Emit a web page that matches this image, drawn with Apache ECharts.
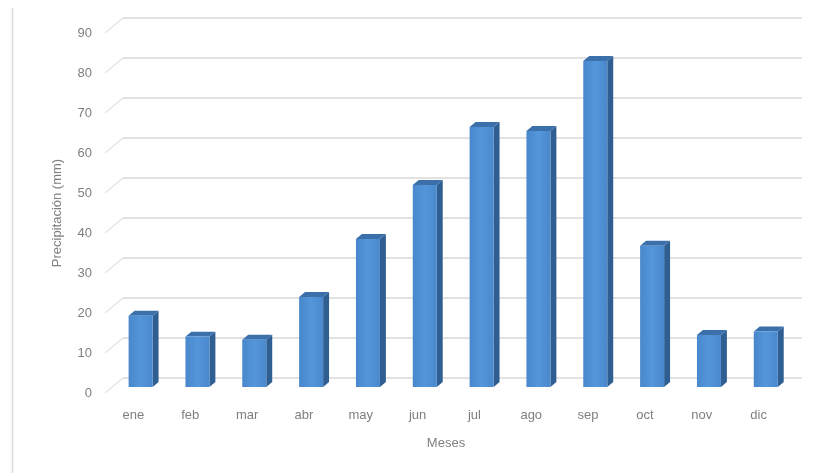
<!DOCTYPE html>
<html><head><meta charset="utf-8">
<script src="https://cdn.jsdelivr.net/npm/echarts@6/dist/echarts.min.js"></script>
<style>html,body{margin:0;padding:0;background:#fff}#c{width:822px;height:473px}</style>
</head><body><div id="c"></div>
<script>
const categories = ['ene','feb','mar','abr','may','jun','jul','ago','sep','oct','nov','dic'];
const precipitation = [17.8, 12.6, 11.8, 22.5, 37, 50.5, 65, 64, 81.5, 35.3, 13, 13.9];
const yTicks = [0,10,20,30,40,50,60,70,80,90];

const DX = 18, DY = -15;          // full depth offset (front plane -> back wall)
const BF = 0.4, BB = 0.73;        // bar front / back depth fractions
const BW = 24;                    // bar face width
const txt = '#7f7f7f';
const font = 'Liberation Sans';

const chart = echarts.init(document.getElementById('c'));
chart.setOption({
  animation: false,
  backgroundColor: '#fff',
  graphic: [{type:'line', shape:{x1:12.5,y1:8,x2:12.5,y2:473}, style:{stroke:'#d9d9d9', lineWidth:1.5}}],
  grid: [
    {left:105, right:35, top:33, bottom:80},
    {left:123, right:20, top:18, bottom:95}
  ],
  xAxis: [
    {type:'category', gridIndex:0, data:categories,
     axisLine:{show:false}, axisTick:{show:false},
     axisLabel:{color:txt, fontSize:13, fontFamily:font, margin:16},
     name:'Meses', nameLocation:'middle', nameGap:44,
     nameTextStyle:{color:txt, fontSize:13, fontFamily:font}},
    {type:'category', gridIndex:1, data:categories, show:false}
  ],
  yAxis: [
    {type:'value', gridIndex:0, min:0, max:90, interval:10,
     axisLine:{show:false}, axisTick:{show:false}, splitLine:{show:false},
     axisLabel:{color:txt, fontSize:13, fontFamily:font, margin:13},
     name:'Precipitación (mm)', nameLocation:'middle', nameGap:41, nameRotate:90,
     nameTextStyle:{color:txt, fontSize:13, fontFamily:font}},
    {type:'value', gridIndex:1, min:0, max:90, interval:10,
     axisLine:{show:false}, axisTick:{show:false}, axisLabel:{show:false},
     splitLine:{show:true, lineStyle:{color:'#d9d9d9', width:1.5}}}
  ],
  series: [
    {
      type:'custom', xAxisIndex:0, yAxisIndex:0, silent:true,
      data: yTicks.map(v => [0, v]),
      renderItem: function(params, api){
        const p = api.coord([0, api.value(1)]);
        const x0 = params.coordSys.x;
        return {type:'line', shape:{x1:x0, y1:p[1], x2:x0+DX, y2:p[1]+DY},
                style:{stroke:'#e3e3e3', lineWidth:1.2}};
      }
    },
    {
      type:'custom', xAxisIndex:0, yAxisIndex:0, silent:true,
      data: precipitation.map((v,i) => [i, v]),
      renderItem: function(params, api){
        const base = api.coord([api.value(0), 0]);
        const top = api.coord([api.value(0), api.value(1)]);
        const fx = base[0] - BW/2 + DX*BF, fy0 = base[1] + DY*BF, fy1 = top[1] + DY*BF;
        const ox = DX*(BB-BF), oy = DY*(BB-BF);
        return {type:'group', children:[
          {type:'polygon', shape:{points:[[fx+BW,fy0],[fx+BW+ox,fy0+oy],[fx+BW+ox,fy1+oy],[fx+BW,fy1]]},
           style:{fill:'#2f5f92'}},
          {type:'polygon', shape:{points:[[fx,fy1],[fx+BW,fy1],[fx+BW+ox,fy1+oy],[fx+ox,fy1+oy]]},
           style:{fill:'#3b70ab'}},
          {type:'rect', shape:{x:fx, y:fy1, width:BW, height:fy0-fy1},
           style:{fill:new echarts.graphic.LinearGradient(0,0,1,0,[
             {offset:0,color:'#4887cc'},{offset:0.5,color:'#5496da'},{offset:1,color:'#4a88cc'}])}}
        ]};
      }
    }
  ]
});
</script></body></html>
